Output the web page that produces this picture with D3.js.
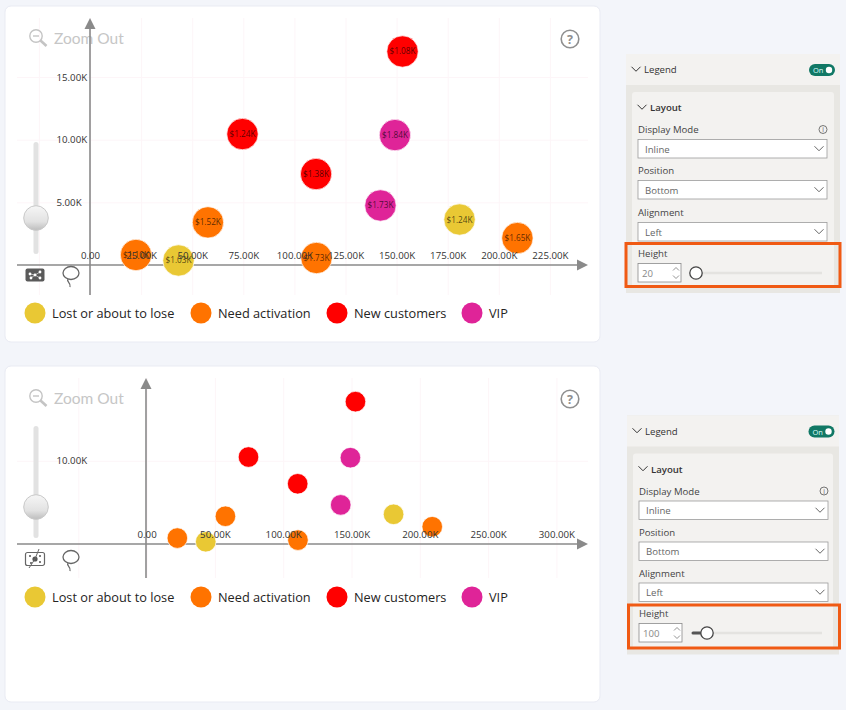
<!DOCTYPE html>
<html>
<head>
<meta charset="utf-8">
<script src="https://cdnjs.cloudflare.com/ajax/libs/d3/7.8.5/d3.min.js"></script>
<style>
  html, body { margin: 0; padding: 0; background: #f3f5fa; }
  svg { display: block; }
  text { font-family: "Open Sans", "Noto Sans", sans-serif; }
</style>
</head>
<body>
<svg id="page" width="846" height="710"></svg>
<script>
// Customer segments and their colours
const segments = ["Lost or about to lose", "Need activation", "New customers", "VIP"];
const segmentColors = ["#e9c834", "#ff7300", "#ff0000", "#df2498"];

// One entry per customer group
const pointSegments = [1, 0, 1, 2, 2, 1, 2, 3, 3, 0, 1];
const pointX = [22.5, 43.3, 57.7, 74.6, 110.6, 110.8, 152.9, 149.2, 142.1, 180.8, 209.1];
const pointY = [0.8, 0.36, 3.4, 10.45, 7.26, 0.56, 17.04, 10.37, 4.75, 3.63, 2.15];
const pointSales = ["$1.10K", "$1.03K", "$1.52K", "$1.24K", "$1.38K", "$1.73K", "$1.08K", "$1.84K", "$1.73K", "$1.24K", "$1.65K"];

// Tick values of the two scatter charts, in thousands
const upperXTicks = [-25, 0, 25, 50, 75, 100, 125, 150, 175, 200, 225];
const upperYTicks = [5, 10, 15];
const lowerXTicks = [-50, 0, 50, 100, 150, 200, 250, 300];
const lowerYTicks = [10];

const paneOptions = ["Inline", "Bottom", "Left"];
const paneLabels = ["Display Mode", "Position", "Alignment"];

const svg = d3.select("#page");
const fmtK = v => v === 0 ? "0.00" : d3.format(".2f")(v) + "K";

function scatter(o) {
  const g = svg.append("g");

  // Card
  g.append("rect").attr("x", 5).attr("y", o.top).attr("width", 595).attr("height", 336)
    .attr("rx", 6).attr("fill", "#fff").attr("stroke", "#e9ebf3");

  const x = d3.scaleLinear().domain([0, o.xMax]).range([o.x0, o.x0 + o.xMax * o.xPerK]);
  const y = d3.scaleLinear().domain([0, o.yMax]).range([o.y0, o.y0 - o.yMax * o.yPerK]);

  // Grid lines
  const xGrid = d3.axisBottom(x).tickValues(o.xTicks).tickSize(o.gridBottom - o.gridTop).tickFormat("");
  g.append("g").attr("transform", `translate(0,${o.gridTop})`).call(xGrid)
    .call(s => s.select(".domain").remove())
    .selectAll("line").attr("stroke", "#fdf5f8");
  const yGrid = d3.axisLeft(y).tickValues(o.yTicks).tickSize(-(588 - 17)).tickFormat("");
  g.append("g").attr("transform", "translate(17,0)").call(yGrid)
    .call(s => s.select(".domain").remove())
    .selectAll("line").attr("stroke", "#fdf5f8");

  // Zoom-out control
  const zoom = g.append("g").attr("transform", `translate(37,${o.top + 31})`)
    .attr("fill", "none").attr("stroke", "#c4c4c4");
  zoom.append("circle").attr("cx", -1).attr("cy", -1).attr("r", 6.2).attr("stroke-width", 1.4);
  zoom.append("line").attr("x1", -4).attr("x2", 2).attr("y1", -1).attr("y2", -1).attr("stroke-width", 1.4);
  zoom.append("line").attr("x1", 3.5).attr("y1", 3.5).attr("x2", 9.5).attr("y2", 9).attr("stroke-width", 2.6);
  g.append("text").attr("x", 54).attr("y", o.top + 38).attr("font-size", 15.5)
    .style("font-family", "Lato, 'Open Sans', sans-serif")
    .attr("fill", "#c6c6c6").text("Zoom Out");

  // Help button
  g.append("circle").attr("cx", 570).attr("cy", o.top + 33).attr("r", 8.8)
    .attr("fill", "none").attr("stroke", "#8f8f8f").attr("stroke-width", 1.6);
  g.append("text").attr("x", 570).attr("y", o.top + 37.5).attr("text-anchor", "middle")
    .attr("font-size", 12.5).attr("font-weight", 700).attr("fill", "#8f8f8f").text("?");

  // Vertical zoom slider
  g.append("rect").attr("x", 33.5).attr("y", o.sliderTop).attr("width", 5).attr("height", 112)
    .attr("rx", 2.5).attr("fill", "#e2e2e2");
  const gradId = "knob" + o.top;
  const grad = svg.append("defs").append("linearGradient").attr("id", gradId)
    .attr("x1", 0).attr("x2", 0).attr("y1", 0).attr("y2", 1);
  grad.append("stop").attr("offset", "0%").attr("stop-color", "#f6f6f6");
  grad.append("stop").attr("offset", "65%").attr("stop-color", "#e2e2e2");
  grad.append("stop").attr("offset", "100%").attr("stop-color", "#bdbdbd");
  g.append("circle").attr("cx", 36).attr("cy", o.knobY).attr("r", 12.3)
    .attr("fill", `url(#${gradId})`).attr("stroke", "#c9c9c9");

  // Axis lines with arrow heads
  const axisColor = "#8a8a8a";
  const axisX = Math.floor(o.x0), axisY = Math.floor(o.y0);
  g.append("line").attr("x1", 17).attr("x2", 580).attr("y1", axisY).attr("y2", axisY)
    .attr("stroke", axisColor).attr("stroke-width", 1.6);
  g.append("line").attr("x1", axisX).attr("x2", axisX).attr("y1", o.gridTop + 6).attr("y2", o.gridBottom)
    .attr("stroke", axisColor).attr("stroke-width", 1.6);
  g.append("path").attr("fill", axisColor)
    .attr("d", `M577,${axisY - 5.5}L588,${axisY}L577,${axisY + 5.5}Z`);
  g.append("path").attr("fill", axisColor)
    .attr("d", `M${axisX - 5.5},${o.gridTop + 11}L${axisX},${o.gridTop}L${axisX + 5.5},${o.gridTop + 11}Z`);

  // Selection tools under the axis
  const tool = g.append("g").attr("transform", `translate(35,${axisY + o.toolDy})`);
  if (o.filledTool) {
    tool.append("rect").attr("x", -9.5).attr("y", -6.5).attr("width", 19).attr("height", 13).attr("rx", 2).attr("fill", "#5a5a5a");
    tool.append("path").attr("d", "M-5,-1L0,0L5,-3M0,0L5,3M-4,3L0,0").attr("stroke", "#ddd").attr("stroke-width", 0.7).attr("fill", "none");
    tool.selectAll("circle.n").data([[-5, -1], [-4, 3], [0, 0], [5, -3], [5, 3]]).join("circle")
      .attr("cx", d => d[0]).attr("cy", d => d[1]).attr("r", 1.4).attr("fill", "#fff");
  } else {
    tool.append("rect").attr("x", -9.5).attr("y", -6.5).attr("width", 19).attr("height", 13).attr("rx", 2)
      .attr("fill", "#fff").attr("stroke", "#666").attr("stroke-width", 1.2);
    tool.selectAll("circle.n").data([[0, 0], [-5, -3], [5, -3], [-4, 4], [5, 3]]).join("circle")
      .attr("cx", d => d[0]).attr("cy", d => d[1]).attr("r", (d, i) => i ? 1 : 2.6).attr("fill", "#555");
    tool.append("path").attr("d", "M0,0L4,-10M0,0L-6,9").attr("stroke", "#666").attr("fill", "none");
  }
  const lasso = g.append("g").attr("transform", `translate(71,${axisY + o.toolDy})`)
    .attr("fill", "none").attr("stroke", "#666").attr("stroke-width", 1.3);
  lasso.append("ellipse").attr("cx", 0).attr("cy", -2).attr("rx", 8).attr("ry", 6.5);
  lasso.append("path").attr("d", "M-3,4C-5,7 0,7 -1,12");

  // Customer groups
  const rows = pointX.map((v, i) => ({ x: v, y: pointY[i], s: pointSegments[i], label: pointSales[i] }));
  g.append("g").selectAll("circle").data(rows).join("circle")
    .attr("cx", d => x(d.x)).attr("cy", d => y(d.y)).attr("r", o.radius)
    .attr("fill", d => segmentColors[d.s]).attr("stroke", "#fff").attr("stroke-opacity", 0.7);

  // Sales labels, only where the bubbles are large enough
  if (o.showLabels) {
    g.append("g").selectAll("text").data(rows).join("text")
      .attr("x", d => x(d.x)).attr("y", d => y(d.y) + 3)
      .attr("text-anchor", "middle").attr("font-size", 8.2).attr("fill", "#000").attr("fill-opacity", 0.68)
      .text(d => d.label);
  }

  // Tick labels sit on top of the bubbles
  const xAxis = d3.axisTop(x).tickValues(o.xTicks.filter(t => t >= 0)).tickSize(0).tickPadding(6).tickFormat(fmtK);
  g.append("g").attr("transform", `translate(0,${axisY})`).call(xAxis)
    .call(s => s.select(".domain").remove())
    .selectAll("text").attr("font-size", 9.7).attr("fill", "#333")
    .style("font-family", '"Open Sans", "Noto Sans", sans-serif');
  const yAxis = d3.axisRight(y).tickValues(o.yTicks).tickSize(0).tickPadding(0).tickFormat(fmtK);
  g.append("g").attr("transform", "translate(56.5,0)").call(yAxis)
    .call(s => s.select(".domain").remove())
    .selectAll("text").attr("font-size", 9.7).attr("fill", "#333")
    .style("font-family", '"Open Sans", "Noto Sans", sans-serif');

  // Legend
  const legendDots = [35, 201, 337, 472];
  const legend = g.append("g").selectAll("g").data(segments).join("g")
    .attr("transform", (d, i) => `translate(${legendDots[i]},${o.legendY})`);
  legend.append("circle").attr("r", 10.5).attr("fill", (d, i) => segmentColors[i]);
  legend.append("text").attr("x", 17).attr("y", 5).attr("font-size", 12.75).attr("fill", "#252423").text(d => d);
}

function chevron(g, cx, cy, w, color) {
  g.append("path").attr("d", `M${cx - w},${cy - w / 2}L${cx},${cy + w / 2}L${cx + w},${cy - w / 2}`)
    .attr("fill", "none").attr("stroke", color).attr("stroke-width", 1);
}

function pane(o) {
  const g = svg.append("g");
  const textColor = "#444";
  g.append("rect").attr("x", o.left).attr("y", o.top).attr("width", o.width).attr("height", 239).attr("fill", "#e8e7e3");
  g.append("rect").attr("x", o.left).attr("y", o.top).attr("width", o.width).attr("height", 31).attr("fill", "#f3f2f0");
  g.append("rect").attr("x", o.left + 6).attr("y", o.top + 38).attr("width", o.width - 12).attr("height", 196)
    .attr("rx", 3).attr("fill", "#f3f2f0");

  chevron(g, o.left + 10, o.top + 15, 4.5, "#333");
  g.append("text").attr("x", o.left + 18).attr("y", o.top + 19).attr("font-size", 9.6).attr("fill", "#333").text("Legend");

  // On/off toggle
  g.append("rect").attr("x", o.toggleX).attr("y", o.top + 10).attr("width", 26).attr("height", 12).attr("rx", 6).attr("fill", "#117865");
  g.append("text").attr("x", o.toggleX + 4).attr("y", o.top + 19).attr("font-size", 7.5).attr("fill", "#dff").text("On");
  g.append("circle").attr("cx", o.toggleX + 20).attr("cy", o.top + 16).attr("r", 3.2).attr("fill", "#fff");

  chevron(g, o.left + 16, o.top + 53, 4.5, "#333");
  g.append("text").attr("x", o.left + 24).attr("y", o.top + 57).attr("font-size", 9.6).attr("font-weight", 600).attr("fill", "#333").text("Layout");

  // Labelled drop-downs
  paneLabels.forEach((label, i) => {
    const top = o.boxTops[i];
    g.append("text").attr("x", o.left + 12).attr("y", top - 6.5).attr("font-size", 9.6).attr("fill", textColor).text(label);
    g.append("rect").attr("x", o.left + 12).attr("y", top).attr("width", 189).attr("height", 18.5)
      .attr("fill", "#fff").attr("stroke", "#9b9b9b").attr("stroke-width", 0.8);
    g.append("text").attr("x", o.left + 19).attr("y", top + 13).attr("font-size", 9.6).attr("fill", "#666").text(paneOptions[i]);
    chevron(g, o.left + 193, top + 9, 4.5, "#666");
  });

  // Info mark next to Display Mode
  g.append("circle").attr("cx", o.left + 197).attr("cy", o.boxTops[0] - 10).attr("r", 4)
    .attr("fill", "none").attr("stroke", "#555").attr("stroke-width", 0.8);
  g.append("text").attr("x", o.left + 197).attr("y", o.boxTops[0] - 7.5).attr("text-anchor", "middle")
    .attr("font-size", 6.5).attr("fill", "#555").text("i");

  // Height control
  g.append("text").attr("x", o.left + 12).attr("y", o.heightTop - 6.5).attr("font-size", 9.6).attr("fill", textColor).text("Height");
  g.append("rect").attr("x", o.left + 12).attr("y", o.heightTop).attr("width", 43).attr("height", 18.5)
    .attr("fill", "#fff").attr("stroke", "#8a8a8a").attr("stroke-width", 0.8);
  g.append("text").attr("x", o.left + 16).attr("y", o.heightTop + 13.5).attr("font-size", 9.6).attr("fill", "#888").text(o.height);
  const stepX = o.left + 50;
  g.append("path").attr("d", `M${stepX - 3},${o.heightTop + 7}l3,-3l3,3M${stepX - 3},${o.heightTop + 12}l3,3l3,-3`)
    .attr("fill", "none").attr("stroke", "#777").attr("stroke-width", 0.8);

  const trackY = o.heightTop + 9.5;
  g.append("line").attr("x1", o.trackStart).attr("x2", 822).attr("y1", trackY).attr("y2", trackY)
    .attr("stroke", "#e4e3e0").attr("stroke-width", 2.5);
  if (o.knobX > o.trackStart + 8) {
    g.append("line").attr("x1", o.trackStart).attr("x2", o.knobX).attr("y1", trackY).attr("y2", trackY)
      .attr("stroke", "#555").attr("stroke-width", 3).attr("stroke-linecap", "round");
  }
  g.append("circle").attr("cx", o.knobX).attr("cy", trackY).attr("r", 6.2)
    .attr("fill", "#fff").attr("stroke", "#444").attr("stroke-width", 1.3);

  // Highlight around the height control
  g.append("rect").attr("x", o.boxX).attr("y", o.boxY).attr("width", o.boxW).attr("height", 43)
    .attr("fill", "none").attr("stroke", "#f05a14").attr("stroke-width", 3);
}

scatter({
  top: 6, x0: 90, y0: 265, xPerK: 51.1 / 25, yPerK: 12.53, xMax: 240, yMax: 19,
  xTicks: upperXTicks, yTicks: upperYTicks, gridTop: 18, gridBottom: 295,
  radius: 15.7, showLabels: true, legendY: 313, sliderTop: 142, knobY: 218,
  toolDy: 10, filledTool: true
});
scatter({
  top: 366, x0: 146.6, y0: 544.8, xPerK: 68.3 / 50, yPerK: 8.4, xMax: 320, yMax: 19,
  xTicks: lowerXTicks, yTicks: lowerYTicks, gridTop: 378, gridBottom: 578,
  radius: 10.3, showLabels: false, legendY: 597, sliderTop: 426, knobY: 507,
  toolDy: 15, filledTool: false
});

pane({
  left: 626, top: 54, width: 214, toggleX: 809, boxTops: [139.5, 180.5, 222.5], heightTop: 263.5,
  height: "20", trackStart: 690, knobX: 696, boxX: 626, boxY: 243.5, boxW: 214
});
pane({
  left: 627, top: 415.5, width: 212, toggleX: 808.5, boxTops: [501, 542, 583], heightTop: 623.5,
  height: "100", trackStart: 693, knobX: 707, boxX: 628.5, boxY: 605, boxW: 211
});
</script>
</body>
</html>
